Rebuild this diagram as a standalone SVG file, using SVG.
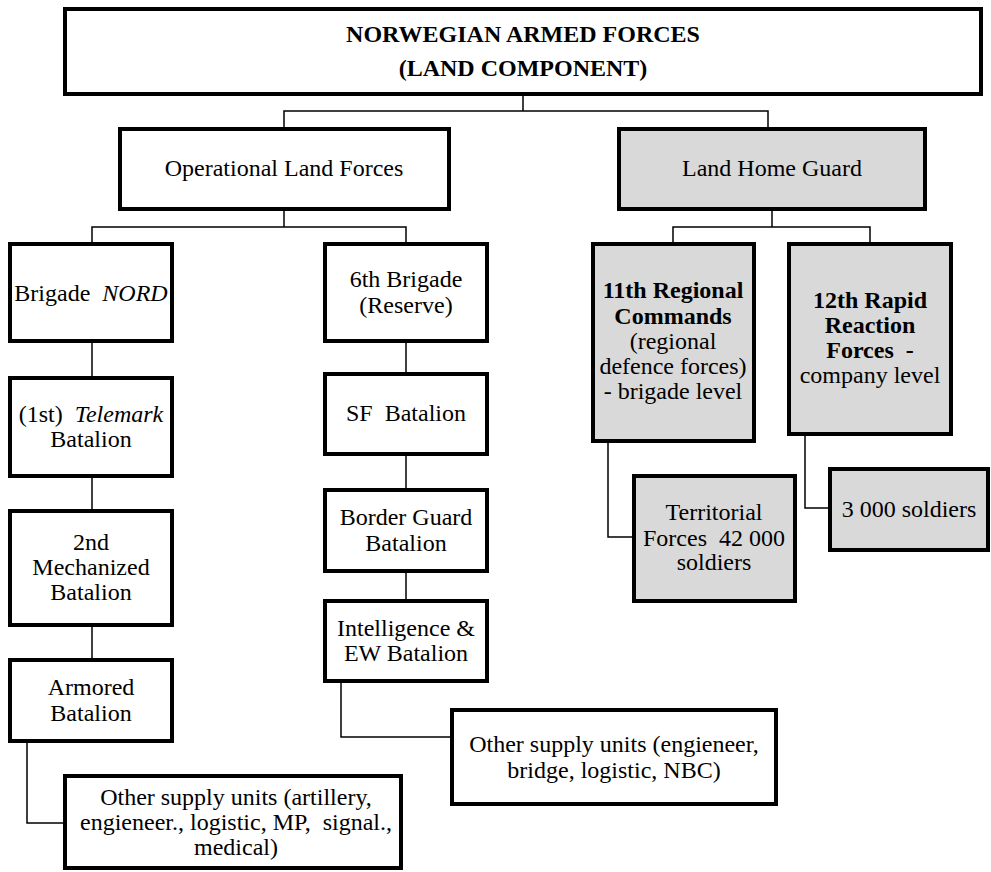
<svg xmlns="http://www.w3.org/2000/svg" width="991" height="872" viewBox="0 0 991 872">
<style>
  .box { fill: #ffffff; stroke: #000000; stroke-width: 4; }
  .gray { fill: #d9d9d9; stroke: #000000; stroke-width: 4; }
  .conn { fill: none; stroke: #000000; stroke-width: 1.5; }
  text { font-family: "Liberation Serif", "Times New Roman", serif; font-size: 24px; fill: #000000; text-anchor: middle; }
  .b { font-weight: bold; }
  .i { font-style: italic; }
</style>
<rect width="991" height="872" fill="#ffffff"/>
<g id="connectors">
  <polyline class="conn" points="523,95 523,111"/>
  <polyline class="conn" points="284,127 284,111 768,111 768,127"/>
  <polyline class="conn" points="284,211 284,227"/>
  <polyline class="conn" points="92,242 92,227 406,227 406,242"/>
  <polyline class="conn" points="772,211 772,227"/>
  <polyline class="conn" points="673,242 673,227 870,227 870,242"/>
  <line class="conn" x1="92" y1="343" x2="92" y2="376"/>
  <line class="conn" x1="92" y1="478" x2="92" y2="509"/>
  <line class="conn" x1="92" y1="627" x2="92" y2="658"/>
  <polyline class="conn" points="27,743 27,823 63,823"/>
  <line class="conn" x1="406" y1="343" x2="406" y2="372"/>
  <line class="conn" x1="406" y1="456" x2="406" y2="488"/>
  <line class="conn" x1="406" y1="573" x2="406" y2="599"/>
  <polyline class="conn" points="341,683 341,737 450,737"/>
  <polyline class="conn" points="608,443 608,537 632,537"/>
  <polyline class="conn" points="805,436 805,508 828,508"/>
</g>
<g id="n-top">
  <rect class="box" x="65" y="9" width="916" height="85"/>
  <text class="b" x="523" y="42">NORWEGIAN ARMED FORCES</text>
  <text class="b" x="523" y="76">(LAND COMPONENT)</text>
</g>
<g id="n-operational">
  <rect class="box" x="120" y="129" width="329" height="80"/>
  <text x="284" y="176">Operational Land Forces</text>
</g>
<g id="n-homeguard">
  <rect class="gray" x="619" y="129" width="306" height="80"/>
  <text x="772" y="176">Land Home Guard</text>
</g>
<g id="n-nord">
  <rect class="box" x="10" y="244" width="162" height="97"/>
  <text x="91" y="301" xml:space="preserve">Brigade  <tspan class="i">NORD</tspan></text>
</g>
<g id="n-telemark">
  <rect class="box" x="10" y="378" width="162" height="98"/>
  <text x="91" y="422" xml:space="preserve">(1st)  <tspan class="i">Telemark</tspan></text>
  <text x="91" y="447">Batalion</text>
</g>
<g id="n-mechanized">
  <rect class="box" x="10" y="511" width="162" height="114"/>
  <text x="91" y="550">2nd</text>
  <text x="91" y="575">Mechanized</text>
  <text x="91" y="600">Batalion</text>
</g>
<g id="n-armored">
  <rect class="box" x="10" y="660" width="162" height="81"/>
  <text x="91" y="695">Armored</text>
  <text x="91" y="721">Batalion</text>
</g>
<g id="n-supply-left">
  <rect class="box" x="65" y="776" width="336" height="92"/>
  <text x="236" y="805">Other supply units (artillery,</text>
  <text x="236" y="830" xml:space="preserve">engieneer., logistic, MP,  signal.,</text>
  <text x="236" y="855">medical)</text>
</g>
<g id="n-6th">
  <rect class="box" x="325" y="244" width="162" height="97"/>
  <text x="406" y="287">6th Brigade</text>
  <text x="406" y="313">(Reserve)</text>
</g>
<g id="n-sf">
  <rect class="box" x="325" y="374" width="162" height="80"/>
  <text x="406" y="421" xml:space="preserve">SF  Batalion</text>
</g>
<g id="n-border">
  <rect class="box" x="325" y="490" width="162" height="81"/>
  <text x="406" y="525">Border Guard</text>
  <text x="406" y="551">Batalion</text>
</g>
<g id="n-intel">
  <rect class="box" x="325" y="601" width="162" height="80"/>
  <text x="406" y="636">Intelligence &amp;</text>
  <text x="406" y="661">EW Batalion</text>
</g>
<g id="n-supply-right">
  <rect class="box" x="452" y="710" width="324" height="94"/>
  <text x="614" y="752">Other supply units (engieneer,</text>
  <text x="614" y="778">bridge, logistic, NBC)</text>
</g>
<g id="n-11th">
  <rect class="gray" x="593" y="244" width="161" height="197"/>
  <text class="b" x="673" y="298">11th Regional</text>
  <text class="b" x="673" y="324">Commands</text>
  <text x="673" y="349">(regional</text>
  <text x="673" y="374">defence forces)</text>
  <text x="673" y="399">- brigade level</text>
</g>
<g id="n-12th">
  <rect class="gray" x="789" y="244" width="162" height="190"/>
  <text class="b" x="870" y="308">12th Rapid</text>
  <text class="b" x="870" y="333">Reaction</text>
  <text class="b" x="870" y="358" xml:space="preserve">Forces  -</text>
  <text x="870" y="383">company level</text>
</g>
<g id="n-territorial">
  <rect class="gray" x="634" y="476" width="161" height="125"/>
  <text x="714" y="520">Territorial</text>
  <text x="714" y="546" xml:space="preserve">Forces  42 000</text>
  <text x="714" y="570">soldiers</text>
</g>
<g id="n-3000">
  <rect class="gray" x="830" y="469" width="158" height="81"/>
  <text x="909" y="517">3 000 soldiers</text>
</g>
</svg>
